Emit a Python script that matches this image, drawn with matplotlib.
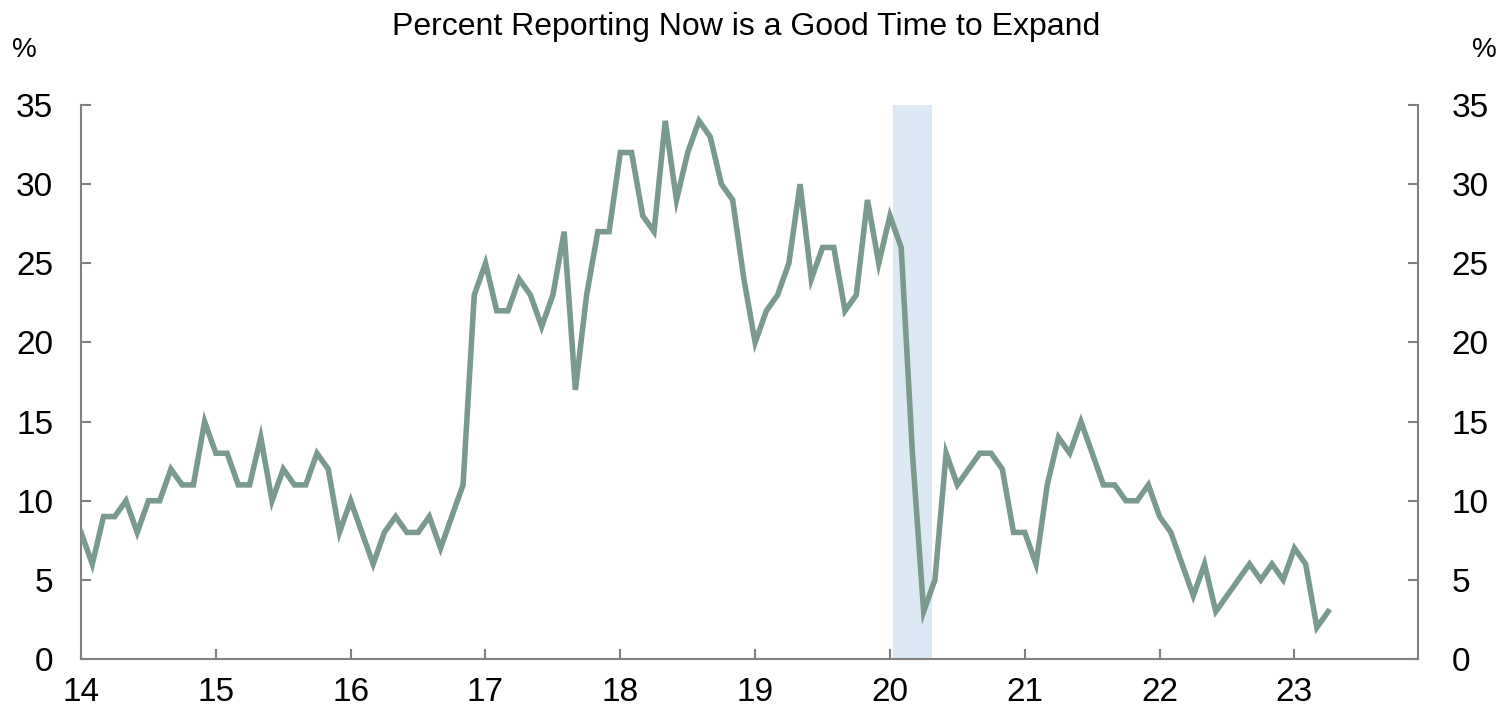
import matplotlib; matplotlib.use("Agg")
import matplotlib.pyplot as plt
import matplotlib.transforms as mtransforms
import numpy as np

# monthly survey values, Jan 2014 .. Apr 2023
pct_2014 = [8, 6, 9, 9, 10, 8, 10, 10, 12, 11, 11, 15]
pct_2015 = [13, 13, 11, 11, 14, 10, 12, 11, 11, 13, 12, 8]
pct_2016 = [10, 8, 6, 8, 9, 8, 8, 9, 7, 9, 11, 23]
pct_2017 = [25, 22, 22, 24, 23, 21, 23, 27, 17, 23, 27, 27]
pct_2018 = [32, 32, 28, 27, 34, 29, 32, 34, 33, 30, 29, 24]
pct_2019 = [20, 22, 23, 25, 30, 24, 26, 26, 22, 23, 29, 25]
pct_2020 = [28, 26, 13, 3, 5, 13, 11, 12, 13, 13, 12, 8]
pct_2021 = [8, 6, 11, 14, 13, 15, 13, 11, 11, 10, 10, 11]
pct_2022 = [9, 8, 6, 4, 6, 3, 4, 5, 6, 5, 6, 5]
pct_2023 = [7, 6, 2, 3]
start_year = 2014
recession = (2020.02, 2020.31)
year_ticks = list(range(2014, 2024))
year_labels = [str(y)[2:] for y in year_ticks]
y_ticks = [0, 5, 10, 15, 20, 25, 30, 35]

C_LINE, C_SHADE, C_AX = "#7B9A8E", "#DDE8F5", "#808080"
plt.rcParams["font.family"] = ["Liberation Sans", "DejaVu Sans"]

values = (pct_2014 + pct_2015 + pct_2016 + pct_2017 + pct_2018 +
          pct_2019 + pct_2020 + pct_2021 + pct_2022 + pct_2023)
x = start_year + np.arange(len(values)) / 12

fig = plt.figure(figsize=(15.09, 7.11), dpi=100)
ax = fig.add_axes([0.0537, 0.0731, 0.886, 0.7792])
ax.axvspan(*recession, color=C_SHADE, lw=0, zorder=1)
ax.plot(x, values, color=C_LINE, lw=4, solid_joinstyle="miter", zorder=3)

ax.set_xlim(2014, 2023 + 11 / 12)
ax.set_ylim(0, 35)
ax.set_xticks(year_ticks)
ax.set_xticklabels(year_labels)
ax.set_yticks(y_ticks)
ax.tick_params(axis="both", direction="in", length=7, width=1.5, color=C_AX,
               labelsize=24)
ax.tick_params(axis="x", pad=13)
ax.tick_params(axis="y", pad=20, right=True, labelright=True)
# right-hand labels sit a little further out than the left ones
shift = mtransforms.ScaledTranslation(4 / 72, 0, fig.dpi_scale_trans)
for t in ax.yaxis.get_major_ticks():
    t.label2.set_transform(t.label2.get_transform() + shift)
for s in ("left", "bottom", "right"):
    ax.spines[s].set_color(C_AX); ax.spines[s].set_linewidth(1.5)
ax.spines["top"].set_visible(False)

fig.text(0.4947, 0.962, "Percent Reporting Now is a Good Time to Expand",
         ha="center", va="center", fontsize=23)
fig.text(0.016, 0.930, "%", ha="center", va="center", fontsize=20)
fig.text(0.984, 0.930, "%", ha="center", va="center", fontsize=20)

fig.savefig("out.png", dpi=100)
